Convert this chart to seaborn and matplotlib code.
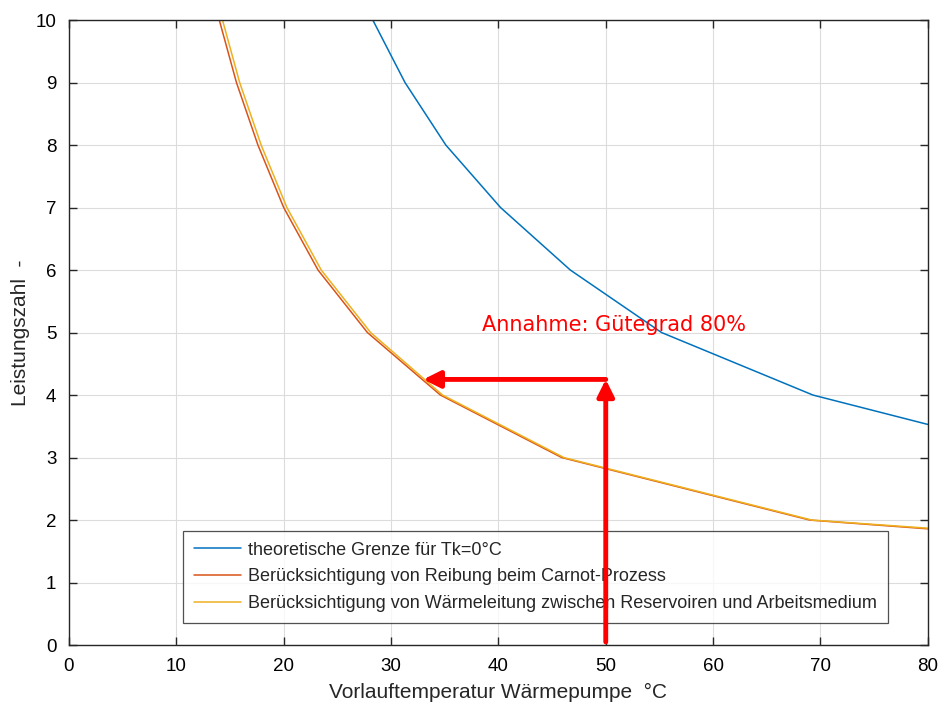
import matplotlib
matplotlib.use('Agg')
import matplotlib.pyplot as plt
import seaborn as sns
import pandas as pd

# Werte (Vorlauftemperatur in °C, Leistungszahl)
x_grenze = [28.3, 31.3, 35.1, 40.2, 46.7, 55.2, 69.3, 80.0]
y_grenze = [10, 9, 8, 7, 6, 5, 4, 3.53]

x_reibung = [14.0, 15.6, 17.6, 20.0, 23.2, 27.8, 34.6, 45.9, 69.0, 80.0]
y_reibung = [10, 9, 8, 7, 6, 5, 4, 3, 2, 1.86]

x_waerme = [14.3, 15.9, 17.9, 20.3, 23.5, 28.1, 34.8, 46.1, 69.2, 80.0]
y_waerme = [10, 9, 8, 7, 6, 5, 4, 3, 2, 1.87]

labels = ['theoretische Grenze für Tk=0°C',
          'Berücksichtigung von Reibung beim Carnot-Prozess',
          'Berücksichtigung von Wärmeleitung zwischen Reservoiren und Arbeitsmedium']

# Pfeil: Vorlauf 50 °C -> Leistungszahl
pfeil_x = 50
pfeil_y = 4.25
pfeil_ziel_x = 33.0

df = pd.concat([
    pd.DataFrame({'x': x_grenze, 'y': y_grenze, 'kurve': labels[0]}),
    pd.DataFrame({'x': x_reibung, 'y': y_reibung, 'kurve': labels[1]}),
    pd.DataFrame({'x': x_waerme, 'y': y_waerme, 'kurve': labels[2]}),
])

sns.set_style('ticks')
plt.rcParams['font.family'] = ['Liberation Sans', 'DejaVu Sans']

fig = plt.figure(figsize=(9.41, 7.05), dpi=100)
ax = fig.add_axes([0.0733, 0.085, 0.9127, 0.8866])

sns.lineplot(data=df, x='x', y='y', hue='kurve', sort=False, estimator=None,
             palette=['#0072BD', '#D95319', '#EDB120'], linewidth=1.1, ax=ax)

ax.set_xlim(0, 80)
ax.set_ylim(0, 10)
ax.set_xticks(range(0, 81, 10))
ax.set_yticks(range(0, 11, 1))
ax.grid(True, color='#dcdcdc', linewidth=0.8)
ax.tick_params(direction='in', top=True, right=True, labelsize=13.5, length=6,
               width=1, pad=9, colors='#262626', labelcolor='black')
for s in ax.spines.values():
    s.set_color('#262626')
    s.set_linewidth(1.0)

ax.set_xlabel('Vorlauftemperatur Wärmepumpe  °C', fontsize=15, labelpad=6)
ax.set_ylabel('Leistungszahl  -', fontsize=15, labelpad=4)

ax.annotate('', xy=(pfeil_x, pfeil_y), xytext=(pfeil_x, 0.05),
            arrowprops=dict(arrowstyle='-|>', color='red', lw=3.5,
                            mutation_scale=25, shrinkA=0, shrinkB=0))
ax.annotate('', xy=(pfeil_ziel_x, pfeil_y), xytext=(pfeil_x, pfeil_y),
            arrowprops=dict(arrowstyle='-|>', color='red', lw=3.5,
                            mutation_scale=25, shrinkA=0, shrinkB=0))
ax.text(38.5, 5.12, 'Annahme: Gütegrad 80%', color='red', fontsize=15,
        va='center', ha='left', family=['DejaVu Sans'])

leg = ax.legend(loc='lower left', bbox_to_anchor=(0.133, 0.035), fontsize=13,
                frameon=True, fancybox=False, edgecolor='#262626',
                handlelength=2.6, handletextpad=0.4, borderpad=0.6,
                labelspacing=0.55, borderaxespad=0)
leg.get_frame().set_linewidth(0.9)
leg.set_zorder(2)

fig.savefig('out.png', dpi=100)
